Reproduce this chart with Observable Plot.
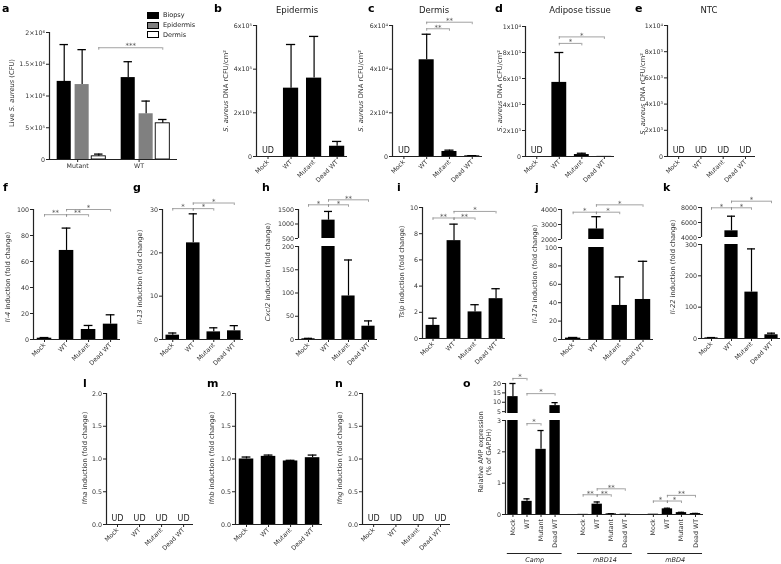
<!DOCTYPE html>
<html><head><meta charset="utf-8">
<script src="https://cdn.jsdelivr.net/npm/d3@7"></script>
<script src="https://cdn.jsdelivr.net/npm/@observablehq/plot@0.6"></script>
<style>
body{margin:0;background:#fff;}
#fig{position:relative;width:781px;height:564px;overflow:hidden;font-family:"DejaVu Sans",Verdana,sans-serif;color:#333;background:#fff;filter:grayscale(1);}
#fig svg{position:absolute;overflow:visible;}
.letter{position:absolute;font-weight:bold;font-size:11px;color:#000;line-height:1;}
.title{position:absolute;font-size:8.5px;line-height:1;transform:translateX(-50%);white-space:nowrap;color:#222;}
.ylab{position:absolute;font-size:6.7px;white-space:nowrap;transform:translate(-50%,-50%) rotate(-90deg);text-align:center;line-height:1.2;color:#333;}
.leg{position:absolute;display:flex;align-items:center;font-size:6.5px;color:#222;line-height:1;}
.leg span.box{display:inline-block;width:10px;height:5px;border:1px solid #000;margin-right:4px;}
</style></head><body><div id="fig"></div><script>
// ---------------- data ----------------
const CATS = ["Mock", "WT", "Mutant", "Dead WT"];

// a: live S. aureus (CFU)
const aGroups = ["Mutant", "WT"];
const aTissues = ["Biopsy", "Epidermis", "Dermis"];
const aMutantMean = [1.23e6, 1.18e6, 0.05e6];
const aMutantTop = [1.81e6, 1.73e6, 0.085e6];
const aWTMean = [1.29e6, 0.72e6, 0.57e6];
const aWTTop = [1.54e6, 0.92e6, 0.63e6];
const aTicks = [0, 5e5, 1e6, 1.5e6, 2e6];
const aTickLabels = ["0", "5×10⁵", "1×10⁶", "1.5×10⁶", "2×10⁶"];
const aSigY = 1.76e6, aSigText = "***";

// b-e: S. aureus DNA rCFU/cm2 (null = UD)
const bMean = [null, 3.13e5, 3.59e5, 0.47e5];
const bTop = [null, 5.13e5, 5.5e5, 0.69e5];
const bTicks = [0, 2e5, 4e5, 6e5];
const bTickLabels = ["0", "2x10⁵", "4x10⁵", "6x10⁵"];
const cMean = [null, 4.43e4, 0.23e4, 0.03e4];
const cTop = [null, 5.6e4, 0.29e4, 0.04e4];
const cTicks = [0, 2e4, 4e4, 6e4];
const cTickLabels = ["0", "2x10⁴", "4x10⁴", "6x10⁴"];
const cSig = [["WT", "Mutant", 5.85e4, "**"], ["WT", "Dead WT", 6.15e4, "**"]];
const dMean = [null, 5.7e3, 150, 10];
const dTop = [null, 8.0e3, 250, null];
const dSig = [["WT", "Mutant", 8.7e3, "*"], ["WT", "Dead WT", 9.2e3, "*"]];
const eMean = [null, null, null, null];
const eTop = [null, null, null, null];
const deTicks = [0, 2e3, 4e3, 6e3, 8e3, 1e4];
const deTickLabels = ["0", "2x10³", "4x10³", "6x10³", "8x10³", "1x10⁴"];

// f-k: fold change
const fMean = [1.0, 68.5, 7.7, 11.8];
const fTop = [1.5, 85.7, 10.8, 19.0];
const fSig = [["Mock", "WT", 96, "**"], ["WT", "Mutant", 96, "**"], ["WT", "Dead WT", 100, "*"]];
const fTicks = [0, 20, 40, 60, 80, 100];
const gMean = [1.0, 22.3, 1.76, 2.0];
const gTop = [1.5, 29.0, 2.7, 3.2];
const gSig = [["Mock", "WT", 30.2, "*"], ["WT", "Mutant", 30.2, "*"], ["WT", "Dead WT", 31.5, "*"]];
const gTicks = [0, 10, 20, 30];
const hMean = [1.5, 1133, 93.6, 28.6];
const hTop = [2.5, 1433, 171, 40];
const hSig = [["Mock", "WT", 1662, "*"], ["WT", "Mutant", 1662, "*"], ["WT", "Dead WT", 1834, "**"]];
const hTicksUpper = [500, 1000, 1500], hTicksLower = [0, 50, 100, 150, 200];
const iMean = [1.0, 7.47, 2.03, 3.04];
const iTop = [1.55, 8.73, 2.58, 3.8];
const iSig = [["Mock", "WT", 9.2, "**"], ["WT", "Mutant", 9.2, "**"], ["WT", "Dead WT", 9.7, "*"]];
const iTicks = [0, 2, 4, 6, 8, 10];
const jMean = [1.5, 2700, 37, 43.5];
const jTop = [2.2, 3520, 68, 85];
const jSig = [["Mock", "WT", 3820, "*"], ["WT", "Mutant", 3820, "*"], ["WT", "Dead WT", 4310, "*"]];
const jTicksUpper = [2000, 3000, 4000], jTicksLower = [0, 20, 40, 60, 80, 100];
const kMean = [2, 4890, 148, 11.8];
const kTop = [3, 6840, 286, 17];
const kSig = [["Mock", "WT", 7960, "*"], ["WT", "Mutant", 7960, "*"], ["WT", "Dead WT", 8840, "*"]];
const kTicksUpper = [4000, 6000, 8000], kTicksLower = [0, 100, 200, 300];

// l-n: interferons
const lMean = [null, null, null, null];
const mMean = [1.0, 1.04, 0.97, 1.02];
const mTop = [1.03, 1.06, 0.98, 1.06];
const nMean = [null, null, null, null];
const lmnNone = [null, null, null, null];
const lmnTicks = [0, 0.5, 1, 1.5, 2];
const lmnTickLabels = ["0.0", "0.5", "1.0", "1.5", "2.0"];

// o: AMP expression (% of GAPDH)
const oGenes = ["Camp", "mBD14", "mBD4"];
const oCampMean = [13, 0.42, 2.08, 8.2];
const oCampTop = [20, 0.5, 2.68, 9.8];
const oBD14Mean = [0.005, 0.33, 0.02, 0.01];
const oBD14Top = [null, 0.4, 0.025, null];
const oBD4Mean = [0.01, 0.18, 0.06, 0.03];
const oBD4Top = [null, 0.2, 0.07, 0.035];
const oCampSig = [["Mock", "WT", 22.7, "*"], ["WT", "Dead WT", 14.6, "*"], ["WT", "Mutant", 2.9, "*"]];
const oBD14Sig = [["Mock", "WT", 0.63, "**"], ["WT", "Mutant", 0.63, "**"], ["WT", "Dead WT", 0.82, "**"]];
const oBD4Sig = [["Mock", "WT", 0.43, "*"], ["WT", "Mutant", 0.43, "*"], ["WT", "Dead WT", 0.61, "**"]];
const oTicksUpper = [5, 10, 15, 20], oTicksLower = [0, 1, 2, 3];

// ---------------- helpers ----------------
const fig = document.getElementById("fig");
const FONT = "DejaVu Sans, Verdana, sans-serif";
function addDiv(cls, html, left, top, css = "") {
  const d = document.createElement("div");
  d.className = cls; d.innerHTML = html;
  d.style.cssText += `left:${left}px;top:${top}px;${css}`;
  fig.appendChild(d); return d;
}
const fmtFrom = (ticks, labels) => d => { const i = ticks.indexOf(d); return i < 0 ? "" : (labels ? labels[i] : String(d)); };

function makePlot(o) {
  const ml = o.ml ?? 40, mr = o.mr ?? 4, mt = o.mt ?? 24, mb = o.mb ?? (o.showX ? 46 : 2);
  const span = o.yb - o.yt;
  const W = ml + (o.ex - o.ax) + mr, H = mt + span + mb;
  const [lo, hi] = o.ydom;
  const k = 2.5 * (hi - lo) / span;
  const data = o.bars || [];
  const bars = data.filter(d => d.v != null && d.v > lo).map(d => ({...d, y1: lo, y2: Math.min(d.v, hi)}));
  const errs = data.filter(d => d.e != null && d.e > lo && d.v < hi).map(d => ({...d, y1: Math.max(d.v, lo), y2: Math.min(d.e, hi)}));
  const caps = data.filter(d => d.e != null && d.e >= lo && d.e <= hi);
  const marks = [];
  for (const b of bars) marks.push(Plot.rectY([b], {x1: d => d.x - d.hw, x2: d => d.x + d.hw, y1: "y1", y2: "y2", fill: b.fill, stroke: b.stroke || "none", strokeWidth: 0.9}));
  marks.push(Plot.ruleX(errs, {x: "x", y1: "y1", y2: "y2", stroke: "#000", strokeWidth: 1.2}));
  marks.push(Plot.ruleY(caps, {y: "e", x1: d => d.x - d.cw, x2: d => d.x + d.cw, stroke: "#000", strokeWidth: 1.3}));
  // y axis
  marks.push(Plot.ruleX([o.xdom[0]], {x: d => d, y1: () => lo, y2: () => hi, stroke: "#222", strokeWidth: 1.2}));
  marks.push(Plot.axisY({ticks: o.yticks, tickFormat: fmtFrom(o.yticks, o.ylabels), tickSize: 3, tickPadding: 1.5, label: null, stroke: "#222", fill: "#333"}));
  if (o.showX) {
    marks.push(Plot.ruleY([lo], {y: d => d, x1: () => o.xdom[0], x2: () => o.xdom[1], stroke: "#222", strokeWidth: 1.2}));
    marks.push(Plot.axisX({ticks: o.xticks, tickFormat: fmtFrom(o.xticks, o.xlabels), tickRotate: o.xrotate ?? -45, tickSize: 3, tickPadding: 1.5, label: null, stroke: "#222", fill: "#333"}));
  }
  // UD labels
  if (o.ud && o.ud.length) marks.push(Plot.text(o.ud, {x: d => d, y: () => lo, text: () => "UD", dy: -6, fontSize: 8, fill: "#222"}));
  // significance brackets
  const br = (o.sig || []).map(([a, b, y, s]) => ({x1: a, x2: b, y, s}));
  if (br.length) {
    marks.push(Plot.ruleY(br, {y: "y", x1: "x1", x2: "x2", stroke: "#8a8a8a", strokeWidth: 0.8}));
    const bt = br.flatMap(d => [{x: d.x1, y: d.y}, {x: d.x2, y: d.y}]);
    marks.push(Plot.ruleX(bt, {x: "x", y1: "y", y2: d => d.y - k, stroke: "#8a8a8a", strokeWidth: 0.8}));
    marks.push(Plot.text(br, {x: d => (d.x1 + d.x2) / 2, y: "y", text: "s", dy: -1.5, fontSize: 7, fill: "#555"}));
  }
  if (o.extra) marks.push(...o.extra);
  const svg = Plot.plot({
    width: W, height: H, marginLeft: ml, marginRight: mr, marginTop: mt, marginBottom: mb,
    x: {domain: o.xdom, axis: o.showX ? undefined : null},
    y: {domain: o.ydom},
    style: {fontFamily: FONT, fontSize: "6.3px", color: "#333", background: "transparent", overflow: "visible"},
    marks
  });
  svg.style.left = (o.ax - ml) + "px";
  svg.style.top = (o.yt - mt) + "px";
  fig.appendChild(svg);
  return svg;
}

const X4 = [-0.5, 3.45];
const catBars = (mean, top, pos = i => i, hw = 0.33, cw = 0.2) => CATS.map((c, i) => ({x: pos(i), v: mean[i], e: top[i], hw, cw, fill: "#000"}));
const udOf = mean => CATS.map((c, i) => mean[i] == null ? i : null).filter(v => v != null);
const sigOf = (list, pos = i => i) => list.map(([a, b, y, s]) => [pos(CATS.indexOf(a)), pos(CATS.indexOf(b)), y, s]);

function simple(c) {
  makePlot({ax: c.ax, ex: c.ex, yt: c.yt, yb: c.yb, xdom: X4, ydom: c.ydom, yticks: c.ticks, ylabels: c.labels,
    bars: catBars(c.mean, c.top), ud: udOf(c.mean), sig: sigOf(c.sig || []), showX: true, xticks: [0, 1, 2, 3], xlabels: CATS});
}
function broken(c) {
  const bars = catBars(c.mean, c.top);
  const sig = sigOf(c.sig || []);
  makePlot({ax: c.ax, ex: c.ex, yt: c.lower[0], yb: c.lower[1], xdom: X4, ydom: c.ydomLower, yticks: c.ticksLower,
    bars, sig: sig.filter(s => s[2] <= c.ydomLower[1]), showX: true, xticks: [0, 1, 2, 3], xlabels: CATS, mt: 4});
  makePlot({ax: c.ax, ex: c.ex, yt: c.upper[0], yb: c.upper[1], xdom: X4, ydom: c.ydomUpper, yticks: c.ticksUpper,
    bars, sig: sig.filter(s => s[2] > c.ydomLower[1]), showX: false, mt: 20, mb: 2});
}

// ---------------- panel a ----------------
const aFill = ["#000", "#808080", "#fff"];
const aOffsets = [0, 1.4, 2.7];
const aBars = [];
aGroups.forEach((g, gi) => aTissues.forEach((t, ti) => {
  const mean = gi === 0 ? aMutantMean : aWTMean, top = gi === 0 ? aMutantTop : aWTTop;
  aBars.push({g, t, x: 1.15 + gi * 5 + aOffsets[ti], v: mean[ti], e: top[ti], hw: 0.55, cw: 0.33, fill: aFill[ti], stroke: ti === 2 ? "#000" : null});
}));
const aX = (g, t) => aBars.find(b => b.g === g && b.t === t).x;
makePlot({ax: 49, ex: 177, yt: 32, yb: 159, xdom: [0, 10], ydom: [0, 2e6], yticks: aTicks, ylabels: aTickLabels,
  bars: aBars, sig: [[aX("Mutant", "Dermis"), aX("WT", "Dermis"), aSigY, aSigText]],
  showX: true, xticks: [2.2, 7.0], xlabels: aGroups, xrotate: 0, mb: 16, mt: 14});
aTissues.forEach((t, ti) => addDiv("leg", `<span class="box" style="background:${aFill[ti]}"></span>${t}`, 147, 12 + ti * 9.7));

// ---------------- panels b-e ----------------
simple({ax: 256, ex: 347, yt: 25, yb: 156, ydom: [0, 6e5], ticks: bTicks, labels: bTickLabels, mean: bMean, top: bTop});
simple({ax: 392, ex: 482, yt: 25, yb: 156, ydom: [0, 6e4], ticks: cTicks, labels: cTickLabels, mean: cMean, top: cTop, sig: cSig});
simple({ax: 525, ex: 614, yt: 26, yb: 156, ydom: [0, 1e4], ticks: deTicks, labels: deTickLabels, mean: dMean, top: dTop, sig: dSig});
simple({ax: 667, ex: 755, yt: 25, yb: 156, ydom: [0, 1e4], ticks: deTicks, labels: deTickLabels, mean: eMean, top: eTop});

// ---------------- panels f-k ----------------
simple({ax: 33, ex: 120, yt: 209, yb: 339, ydom: [0, 100], ticks: fTicks, mean: fMean, top: fTop, sig: fSig});
simple({ax: 162, ex: 243, yt: 209, yb: 339, ydom: [0, 30], ticks: gTicks, mean: gMean, top: gTop, sig: gSig});
broken({ax: 298, ex: 377, upper: [209, 238], lower: [246, 339], ydomUpper: [500, 1500], ydomLower: [0, 200],
  ticksUpper: hTicksUpper, ticksLower: hTicksLower, mean: hMean, top: hTop, sig: hSig});
simple({ax: 422, ex: 505, yt: 207, yb: 338, ydom: [0, 10], ticks: iTicks, mean: iMean, top: iTop, sig: iSig});
broken({ax: 561, ex: 653, upper: [209, 239], lower: [247, 339], ydomUpper: [2000, 4000], ydomLower: [0, 100],
  ticksUpper: jTicksUpper, ticksLower: jTicksLower, mean: jMean, top: jTop, sig: jSig});
broken({ax: 701, ex: 780, upper: [207, 237], lower: [244, 338], ydomUpper: [4000, 8000], ydomLower: [0, 300],
  ticksUpper: kTicksUpper, ticksLower: kTicksLower, mean: kMean, top: kTop, sig: kSig});

// ---------------- panels l-n ----------------
simple({ax: 106, ex: 193, yt: 393, yb: 524, ydom: [0, 2], ticks: lmnTicks, labels: lmnTickLabels, mean: lMean, top: lmnNone});
simple({ax: 235, ex: 322, yt: 393, yb: 524, ydom: [0, 2], ticks: lmnTicks, labels: lmnTickLabels, mean: mMean, top: mTop});
simple({ax: 362, ex: 450, yt: 393, yb: 524, ydom: [0, 2], ticks: lmnTicks, labels: lmnTickLabels, mean: nMean, top: lmnNone});

// ---------------- panel o ----------------
const oMeans = [oCampMean, oBD14Mean, oBD4Mean], oTops = [oCampTop, oBD14Top, oBD4Top], oSigs = [oCampSig, oBD14Sig, oBD4Sig];
const oBars = oGenes.flatMap((g, gi) => catBars(oMeans[gi], oTops[gi], i => gi * 5 + i, 0.37, 0.22));
const oSigAll = oGenes.flatMap((g, gi) => sigOf(oSigs[gi], i => gi * 5 + i));
const oXTicks = oGenes.flatMap((g, gi) => CATS.map((c, i) => gi * 5 + i));
const oXLabels = oGenes.flatMap(() => CATS);
const oXdom = [-0.53, 13.57];
const oLower = [0, 3], oUpper = [4, 20];
makePlot({ax: 505, ex: 703, yt: 420, yb: 514, xdom: oXdom, ydom: oLower, yticks: oTicksLower, bars: oBars,
  sig: oSigAll.filter(s => s[2] <= oLower[1]), showX: true, xticks: oXTicks, xlabels: oXLabels, xrotate: -90, mt: 4, mb: 50,
  extra: [
    Plot.ruleY(oGenes.map((g, gi) => ({x1: gi * 5 - 0.4, x2: gi * 5 + 3.5})), {y: () => 0, x1: "x1", x2: "x2", dy: 39, stroke: "#222", strokeWidth: 1.2}),
    Plot.text(oGenes.map((g, gi) => ({x: gi * 5 + 1.55, g})), {x: "x", y: () => 0, text: "g", dy: 45.5, fontStyle: "italic", fontSize: 6.5, fill: "#222"})
  ]});
makePlot({ax: 505, ex: 703, yt: 383, yb: 413, xdom: oXdom, ydom: oUpper, yticks: oTicksUpper, bars: oBars,
  sig: oSigAll.filter(s => s[2] > oLower[1]), showX: false, mt: 14, mb: 2});

// ---------------- text: letters, titles, y labels ----------------
const letters = [["a", 2, 3], ["b", 214, 3], ["c", 368, 3], ["d", 495, 3], ["e", 635, 3],
  ["f", 3, 182], ["g", 133, 182], ["h", 262, 182], ["i", 397, 182], ["j", 535, 182], ["k", 663, 182],
  ["l", 83, 378], ["m", 207, 378], ["n", 335, 378], ["o", 463, 378]];
letters.forEach(([t, x, y]) => addDiv("letter", t, x, y));
const titles = [["Epidermis", 297, 6], ["Dermis", 434, 6], ["Adipose tissue", 580, 6], ["NTC", 709, 6]];
titles.forEach(([t, x, y]) => addDiv("title", t, x, y));
const saDNA = "<i>S. aureus</i> DNA rCFU/cm²";
const fold = "induction (fold change)";
const ylabs = [
  ["Live <i>S. aureus</i> (CFU)", 12, 93], [saDNA, 226, 91], [saDNA, 361, 91], [saDNA, 500, 91], [saDNA, 643, 94],
  [`<i>Il-4</i> ${fold}`, 8, 277], [`<i>Il-13</i> ${fold}`, 140, 277], [`<i>Cxcl2</i> ${fold}`, 268, 272],
  [`<i>Tslp</i> ${fold}`, 402, 272], [`<i>Il-17a</i> ${fold}`, 535, 274], [`<i>Il-22</i> ${fold}`, 673, 267],
  [`<i>Ifna</i> ${fold}`, 85, 458], [`<i>Ifnb</i> ${fold}`, 212, 458], [`<i>Ifng</i> ${fold}`, 340, 458],
  ["Relative AMP expression<br>(% of GAPDH)", 485, 452]
];
ylabs.forEach(([t, x, y]) => addDiv("ylab", t, x, y));
</script></body></html>
